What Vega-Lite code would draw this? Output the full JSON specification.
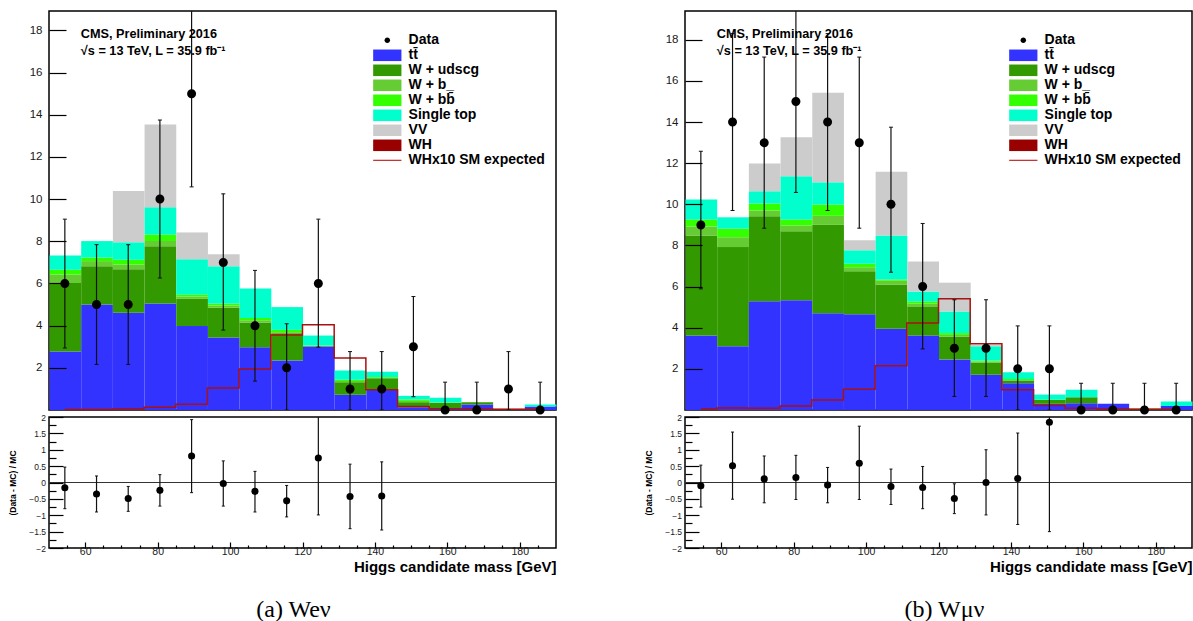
{
  "$schema": "https://vega.github.io/schema/vega-lite/v6.json",
  "background": "white",
  "padding": {"left": 7, "top": 10, "right": 0, "bottom": 0},
  "datasets": {
    "e_stack": [
      {"lo": 50, "hi": 58.75, "1 tt\u0304": 2.77, "2 W + udscg": 3.25, "3 W + b_": 0.41, "4 W + bb\u0304": 0.22, "5 Single top": 0.68, "6 VV": 0},
      {"lo": 58.75, "hi": 67.5, "1 tt\u0304": 5.0, "2 W + udscg": 1.82, "3 W + b_": 0.24, "4 W + bb\u0304": 0.17, "5 Single top": 0.78, "6 VV": 0},
      {"lo": 67.5, "hi": 76.25, "1 tt\u0304": 4.61, "2 W + udscg": 2.07, "3 W + b_": 0.22, "4 W + bb\u0304": 0.22, "5 Single top": 0.84, "6 VV": 2.42},
      {"lo": 76.25, "hi": 85, "1 tt\u0304": 5.05, "2 W + udscg": 2.72, "3 W + b_": 0.24, "4 W + bb\u0304": 0.31, "5 Single top": 1.29, "6 VV": 3.93},
      {"lo": 85, "hi": 93.75, "1 tt\u0304": 3.98, "2 W + udscg": 1.29, "3 W + b_": 0.11, "4 W + bb\u0304": 0.1, "5 Single top": 1.67, "6 VV": 1.27},
      {"lo": 93.75, "hi": 102.5, "1 tt\u0304": 3.44, "2 W + udscg": 1.41, "3 W + b_": 0.11, "4 W + bb\u0304": 0.09, "5 Single top": 1.77, "6 VV": 0.56},
      {"lo": 102.5, "hi": 111.25, "1 tt\u0304": 2.98, "2 W + udscg": 1.17, "3 W + b_": 0.1, "4 W + bb\u0304": 0.11, "5 Single top": 1.4, "6 VV": 0},
      {"lo": 111.25, "hi": 120, "1 tt\u0304": 2.35, "2 W + udscg": 1.29, "3 W + b_": 0.05, "4 W + bb\u0304": 0.11, "5 Single top": 1.08, "6 VV": 0},
      {"lo": 120, "hi": 128.75, "1 tt\u0304": 3.01, "2 W + udscg": 0.02, "3 W + b_": 0.01, "4 W + bb\u0304": 0.02, "5 Single top": 0.47, "6 VV": 0},
      {"lo": 128.75, "hi": 137.5, "1 tt\u0304": 0.72, "2 W + udscg": 0.6, "3 W + b_": 0.05, "4 W + bb\u0304": 0.06, "5 Single top": 0.44, "6 VV": 0},
      {"lo": 137.5, "hi": 146.25, "1 tt\u0304": 0.96, "2 W + udscg": 0.55, "3 W + b_": 0.02, "4 W + bb\u0304": 0.03, "5 Single top": 0.25, "6 VV": 0},
      {"lo": 146.25, "hi": 155, "1 tt\u0304": 0.13, "2 W + udscg": 0.24, "3 W + b_": 0.06, "4 W + bb\u0304": 0.07, "5 Single top": 0.17, "6 VV": 0},
      {"lo": 155, "hi": 163.75, "1 tt\u0304": 0.1, "2 W + udscg": 0.24, "3 W + b_": 0, "4 W + bb\u0304": 0.02, "5 Single top": 0.22, "6 VV": 0},
      {"lo": 163.75, "hi": 172.5, "1 tt\u0304": 0.26, "2 W + udscg": 0.11, "3 W + b_": 0, "4 W + bb\u0304": 0, "5 Single top": 0, "6 VV": 0},
      {"lo": 172.5, "hi": 181.25, "1 tt\u0304": 0, "2 W + udscg": 0.02, "3 W + b_": 0, "4 W + bb\u0304": 0, "5 Single top": 0, "6 VV": 0.05},
      {"lo": 181.25, "hi": 190, "1 tt\u0304": 0.17, "2 W + udscg": 0, "3 W + b_": 0, "4 W + bb\u0304": 0, "5 Single top": 0.09, "6 VV": 0}
    ],
    "mu_stack": [
      {"lo": 50, "hi": 58.75, "1 tt\u0304": 3.62, "2 W + udscg": 4.86, "3 W + b_": 0.44, "4 W + bb\u0304": 0.34, "5 Single top": 0.98, "6 VV": 0},
      {"lo": 58.75, "hi": 67.5, "1 tt\u0304": 3.1, "2 W + udscg": 4.82, "3 W + b_": 0.48, "4 W + bb\u0304": 0.42, "5 Single top": 0.55, "6 VV": 0},
      {"lo": 67.5, "hi": 76.25, "1 tt\u0304": 5.29, "2 W + udscg": 4.13, "3 W + b_": 0.28, "4 W + bb\u0304": 0.34, "5 Single top": 0.59, "6 VV": 1.35},
      {"lo": 76.25, "hi": 85, "1 tt\u0304": 5.34, "2 W + udscg": 3.35, "3 W + b_": 0.28, "4 W + bb\u0304": 0.29, "5 Single top": 2.1, "6 VV": 1.9},
      {"lo": 85, "hi": 93.75, "1 tt\u0304": 4.71, "2 W + udscg": 4.29, "3 W + b_": 0.44, "4 W + bb\u0304": 0.55, "5 Single top": 1.08, "6 VV": 4.35},
      {"lo": 93.75, "hi": 102.5, "1 tt\u0304": 4.66, "2 W + udscg": 2.09, "3 W + b_": 0.19, "4 W + bb\u0304": 0.17, "5 Single top": 0.66, "6 VV": 0.48},
      {"lo": 102.5, "hi": 111.25, "1 tt\u0304": 3.95, "2 W + udscg": 2.15, "3 W + b_": 0.19, "4 W + bb\u0304": 0.05, "5 Single top": 2.14, "6 VV": 3.11},
      {"lo": 111.25, "hi": 120, "1 tt\u0304": 3.62, "2 W + udscg": 1.42, "3 W + b_": 0.13, "4 W + bb\u0304": 0.11, "5 Single top": 0.48, "6 VV": 1.46},
      {"lo": 120, "hi": 128.75, "1 tt\u0304": 2.46, "2 W + udscg": 1.11, "3 W + b_": 0.08, "4 W + bb\u0304": 0.09, "5 Single top": 1.05, "6 VV": 1.4},
      {"lo": 128.75, "hi": 137.5, "1 tt\u0304": 1.71, "2 W + udscg": 0.6, "3 W + b_": 0.05, "4 W + bb\u0304": 0.05, "5 Single top": 0.69, "6 VV": 0.06},
      {"lo": 137.5, "hi": 146.25, "1 tt\u0304": 1.3, "2 W + udscg": 0.13, "3 W + b_": 0.03, "4 W + bb\u0304": 0.05, "5 Single top": 0.33, "6 VV": 0},
      {"lo": 146.25, "hi": 155, "1 tt\u0304": 0.3, "2 W + udscg": 0.2, "3 W + b_": 0, "4 W + bb\u0304": 0, "5 Single top": 0.25, "6 VV": 0},
      {"lo": 155, "hi": 163.75, "1 tt\u0304": 0.33, "2 W + udscg": 0.29, "3 W + b_": 0, "4 W + bb\u0304": 0, "5 Single top": 0.36, "6 VV": 0},
      {"lo": 163.75, "hi": 172.5, "1 tt\u0304": 0.3, "2 W + udscg": 0, "3 W + b_": 0, "4 W + bb\u0304": 0, "5 Single top": 0, "6 VV": 0},
      {"lo": 172.5, "hi": 181.25, "1 tt\u0304": 0, "2 W + udscg": 0.07, "3 W + b_": 0, "4 W + bb\u0304": 0, "5 Single top": 0, "6 VV": 0},
      {"lo": 181.25, "hi": 190, "1 tt\u0304": 0.19, "2 W + udscg": 0, "3 W + b_": 0, "4 W + bb\u0304": 0, "5 Single top": 0.22, "6 VV": 0}
    ],
    "e_data": [
      {"m": 54.375, "n": 6, "lo": 2.94, "hi": 9.05},
      {"m": 63.125, "n": 5, "lo": 2.16, "hi": 7.84},
      {"m": 71.875, "n": 5, "lo": 2.16, "hi": 7.84},
      {"m": 80.625, "n": 10, "lo": 6.26, "hi": 13.75},
      {"m": 89.375, "n": 15, "lo": 10.58, "hi": 19.5},
      {"m": 98.125, "n": 7, "lo": 3.79, "hi": 10.25},
      {"m": 106.875, "n": 4, "lo": 1.37, "hi": 6.62},
      {"m": 115.625, "n": 2, "lo": 0, "hi": 4.09},
      {"m": 124.375, "n": 6, "lo": 2.98, "hi": 9.05},
      {"m": 133.125, "n": 1, "lo": 0, "hi": 2.77},
      {"m": 141.875, "n": 1, "lo": 0, "hi": 2.77},
      {"m": 150.625, "n": 3, "lo": 0.63, "hi": 5.38},
      {"m": 159.375, "n": 0, "lo": 0, "hi": 1.32},
      {"m": 168.125, "n": 0, "lo": 0, "hi": 1.32},
      {"m": 176.875, "n": 1, "lo": 0, "hi": 2.77},
      {"m": 185.625, "n": 0, "lo": 0, "hi": 1.32}
    ],
    "mu_data": [
      {"m": 54.375, "n": 9, "lo": 5.89, "hi": 12.58},
      {"m": 63.125, "n": 14, "lo": 9.7, "hi": 18.3},
      {"m": 71.875, "n": 13, "lo": 8.84, "hi": 17.16},
      {"m": 80.625, "n": 15, "lo": 10.58, "hi": 19.6},
      {"m": 89.375, "n": 14, "lo": 9.7, "hi": 18.3},
      {"m": 98.125, "n": 13, "lo": 8.84, "hi": 17.16},
      {"m": 106.875, "n": 10, "lo": 6.7, "hi": 13.75},
      {"m": 115.625, "n": 6, "lo": 2.97, "hi": 9.07},
      {"m": 124.375, "n": 3, "lo": 0.66, "hi": 5.36},
      {"m": 133.125, "n": 3, "lo": 0.66, "hi": 5.36},
      {"m": 141.875, "n": 2, "lo": 0, "hi": 4.09},
      {"m": 150.625, "n": 2, "lo": 0, "hi": 4.09},
      {"m": 159.375, "n": 0, "lo": 0, "hi": 1.3},
      {"m": 168.125, "n": 0, "lo": 0, "hi": 1.3},
      {"m": 176.875, "n": 0, "lo": 0, "hi": 1.3},
      {"m": 185.625, "n": 0, "lo": 0, "hi": 1.3}
    ],
    "e_wh": [
      {"m": 54.375, "n": 0.02}, {"m": 63.125, "n": 0.02}, {"m": 71.875, "n": 0.05}, {"m": 80.625, "n": 0.13},
      {"m": 89.375, "n": 0.27}, {"m": 98.125, "n": 1.04}, {"m": 106.875, "n": 1.95}, {"m": 115.625, "n": 3.56},
      {"m": 124.375, "n": 4.04}, {"m": 133.125, "n": 2.46}, {"m": 141.875, "n": 0.96}, {"m": 150.625, "n": 0.17},
      {"m": 159.375, "n": 0.05}, {"m": 168.125, "n": 0.05}, {"m": 176.875, "n": 0.03}, {"m": 185.625, "n": 0.03}
    ],
    "mu_wh": [
      {"m": 54.375, "n": 0.05}, {"m": 63.125, "n": 0.1}, {"m": 71.875, "n": 0.08}, {"m": 80.625, "n": 0.2},
      {"m": 89.375, "n": 0.49}, {"m": 98.125, "n": 1.01}, {"m": 106.875, "n": 2.15}, {"m": 115.625, "n": 4.23},
      {"m": 124.375, "n": 5.41}, {"m": 133.125, "n": 3.22}, {"m": 141.875, "n": 0.98}, {"m": 150.625, "n": 0.22},
      {"m": 159.375, "n": 0.08}, {"m": 168.125, "n": 0.05}, {"m": 176.875, "n": 0.04}, {"m": 185.625, "n": 0.04}
    ],
    "e_ratio": [
      {"m": 54.375, "r": -0.16, "lo": -0.8, "hi": 0.47},
      {"m": 63.125, "r": -0.35, "lo": -0.9, "hi": 0.2},
      {"m": 71.875, "r": -0.49, "lo": -0.88, "hi": -0.12},
      {"m": 80.625, "r": -0.24, "lo": -0.72, "hi": 0.24},
      {"m": 89.375, "r": 0.81, "lo": -0.31, "hi": 1.92},
      {"m": 98.125, "r": -0.03, "lo": -0.72, "hi": 0.66},
      {"m": 106.875, "r": -0.27, "lo": -0.9, "hi": 0.34},
      {"m": 115.625, "r": -0.56, "lo": -1.05, "hi": -0.09},
      {"m": 124.375, "r": 0.75, "lo": -0.99, "hi": 2.6},
      {"m": 133.125, "r": -0.43, "lo": -1.41, "hi": 0.56},
      {"m": 141.875, "r": -0.41, "lo": -1.45, "hi": 0.63}
    ],
    "mu_ratio": [
      {"m": 54.375, "r": -0.1, "lo": -0.75, "hi": 0.53},
      {"m": 63.125, "r": 0.51, "lo": -0.51, "hi": 1.54},
      {"m": 71.875, "r": 0.11, "lo": -0.62, "hi": 0.81},
      {"m": 80.625, "r": 0.15, "lo": -0.52, "hi": 0.83},
      {"m": 89.375, "r": -0.08, "lo": -0.62, "hi": 0.46},
      {"m": 98.125, "r": 0.59, "lo": -0.52, "hi": 1.72},
      {"m": 106.875, "r": -0.12, "lo": -0.67, "hi": 0.41},
      {"m": 115.625, "r": -0.15, "lo": -0.8, "hi": 0.49},
      {"m": 124.375, "r": -0.49, "lo": -0.95, "hi": -0.04},
      {"m": 133.125, "r": 0.0, "lo": -0.99, "hi": 1.0},
      {"m": 141.875, "r": 0.12, "lo": -1.28, "hi": 1.51},
      {"m": 150.625, "r": 1.84, "lo": -1.5, "hi": 2.6}
    ]
  },
  "hconcat": [
    {
      "vconcat": [
        {
          "width": 507, "height": 399,
          "resolve": {"axis": {"y": "independent"}},
          "layer": [
            {
              "data": {"name": "e_stack"},
              "transform": [{"fold": ["1 tt\u0304", "2 W + udscg", "3 W + b_", "4 W + bb\u0304", "5 Single top", "6 VV"], "as": ["process", "n"]}],
              "mark": {"type": "bar", "binSpacing": 0},
              "encoding": {
                "x": {"field": "lo", "type": "quantitative", "bin": {"binned": true, "step": 8.75}, "scale": {"domain": [50, 190], "nice": false, "zero": false}, "axis": null},
                "x2": {"field": "hi"},
                "y": {"field": "n", "type": "quantitative", "stack": "zero", "scale": {"domain": [0, 18.92], "nice": false},
                  "axis": {"orient": "left", "offset": 0, "zindex": 1, "title": null, "values": [2,4,6,8,10,12,14,16,18], "tickSize": -17, "labelPadding": 24, "labelFontSize": 11.5, "labelOverlap": false}},
                "order": {"field": "process", "type": "nominal", "sort": "ascending"},
                "color": {"field": "process", "type": "nominal",
                  "scale": {"domain": ["0 Data", "1 tt\u0304", "2 W + udscg", "3 W + b_", "4 W + bb\u0304", "5 Single top", "6 VV", "7 WH", "8 WHx10 SM expected"],
                    "range": ["black", "#3333ff", "#339900", "#66cc33", "#33ff00", "#00ffcc", "#cccccc", "#990000", "#bb1111"]},
                  "legend": {"orient": "none", "legendX": 331.3, "legendY": 22.3, "title": null, "labelExpr": "slice(datum.label, 2)", "labelFont": "Liberation Sans", "labelFontWeight": "bold", "labelFontSize": 14, "labelColor": "black", "symbolSize": 121, "symbolStrokeWidth": 0, "labelOffset": 14.3, "rowPadding": 1, "padding": 0, "symbolOpacity": 1}}
              }
            },
            {
              "data": {"name": "e_wh"},
              "mark": {"type": "line", "interpolate": "step", "color": "#aa1111", "strokeWidth": 1.5},
              "encoding": {"x": {"field": "m", "type": "quantitative"}, "y": {"field": "n", "type": "quantitative", "axis": null}}
            },
            {
              "data": {"name": "e_data"},
              "layer": [
                {"mark": {"type": "rule", "color": "#111", "strokeWidth": 1.2, "clip": true},
                  "encoding": {"x": {"field": "m", "type": "quantitative"}, "y": {"field": "lo", "type": "quantitative", "axis": null}, "y2": {"field": "hi"}}},
                {"mark": {"type": "tick", "orient": "horizontal", "size": 4, "thickness": 1, "color": "#111", "opacity": 1, "clip": true},
                  "encoding": {"x": {"field": "m", "type": "quantitative"}, "y": {"field": "hi", "type": "quantitative", "axis": null}}},
                {"mark": {"type": "tick", "orient": "horizontal", "size": 4, "thickness": 1, "color": "#111", "opacity": 1, "clip": true},
                  "encoding": {"x": {"field": "m", "type": "quantitative"}, "y": {"field": "lo", "type": "quantitative", "axis": null}}},
                {"mark": {"type": "point", "filled": true, "opacity": 1, "size": 324},
                  "encoding": {"x": {"field": "m", "type": "quantitative"}, "y": {"field": "n", "type": "quantitative", "axis": null},
                    "color": {"datum": "0 Data", "type": "nominal",
                      "scale": {"domain": ["0 Data", "1 tt\u0304", "2 W + udscg", "3 W + b_", "4 W + bb\u0304", "5 Single top", "6 VV", "7 WH", "8 WHx10 SM expected"],
                        "range": ["black", "#3333ff", "#339900", "#66cc33", "#33ff00", "#00ffcc", "#cccccc", "#990000", "#bb1111"]},
                      "legend": {"orient": "none", "legendX": 331.3, "legendY": 22.3, "title": null, "labelExpr": "slice(datum.label, 2)", "labelFont": "Liberation Sans", "labelFontWeight": "bold", "labelFontSize": 14, "labelColor": "black", "symbolSize": 121, "symbolStrokeWidth": 0, "labelOffset": 14.3, "rowPadding": 1, "padding": 0, "symbolOpacity": 1}},
                    "shape": {"datum": "0 Data", "type": "nominal",
                      "scale": {"domain": ["0 Data", "1 tt\u0304", "2 W + udscg", "3 W + b_", "4 W + bb\u0304", "5 Single top", "6 VV", "7 WH", "8 WHx10 SM expected"],
                        "range": ["M0.5,0A0.5,0.5,0,1,1,-0.5,0A0.5,0.5,0,1,1,0.5,0Z", "M-2.57,-1.05H2.57V1.05H-2.57Z", "M-2.57,-1.05H2.57V1.05H-2.57Z", "M-2.57,-1.05H2.57V1.05H-2.57Z", "M-2.57,-1.05H2.57V1.05H-2.57Z", "M-2.57,-1.05H2.57V1.05H-2.57Z", "M-2.57,-1.05H2.57V1.05H-2.57Z", "M-2.57,-1.05H2.57V1.05H-2.57Z", "M-2.57,-0.1H2.57V0.1H-2.57Z"]},
                      "legend": {"orient": "none", "legendX": 331.3, "legendY": 22.3, "title": null, "labelExpr": "slice(datum.label, 2)", "labelFont": "Liberation Sans", "labelFontWeight": "bold", "labelFontSize": 14, "labelColor": "black", "symbolSize": 121, "symbolStrokeWidth": 0, "labelOffset": 14.3, "rowPadding": 1, "padding": 0, "symbolOpacity": 1}}}}
              ]
            },
            {
              "data": {"values": [{}]},
              "layer": [
                {"mark": {"type": "text", "align": "left", "baseline": "alphabetic", "font": "Liberation Sans", "fontWeight": "bold", "fontSize": 12.7, "color": "black"},
                  "encoding": {"x": {"datum": 58.8, "type": "quantitative"}, "y": {"datum": 17.66, "type": "quantitative", "axis": null}, "text": {"value": "CMS, Preliminary 2016"}}},
                {"mark": {"type": "text", "align": "left", "baseline": "alphabetic", "font": "Liberation Sans", "fontWeight": "bold", "fontSize": 12.7, "color": "black"},
                  "encoding": {"x": {"datum": 58.8, "type": "quantitative"}, "y": {"datum": 16.82, "type": "quantitative", "axis": null}, "text": {"value": "\u221as = 13 TeV, L = 35.9 fb\u207b\u00b9"}}},
                {"mark": {"type": "rule", "opacity": 0},
                  "encoding": {"y": {"datum": 0, "type": "quantitative",
                    "axis": {"orient": "left", "offset": 0, "zindex": 1, "title": null, "labels": false, "tickSize": -8.5, "values": [0.5,1,1.5,2.5,3,3.5,4.5,5,5.5,6.5,7,7.5,8.5,9,9.5,10.5,11,11.5,12.5,13,13.5,14.5,15,15.5,16.5,17,17.5,18.5]}}}}
              ]
            }
          ]
        },
        {
          "width": 507, "height": 131,
          "title": {"text": "(a) We\u03bd", "orient": "bottom", "anchor": "middle", "font": "Liberation Serif", "fontSize": 24, "fontWeight": "normal", "color": "black", "offset": 23, "dx": -9},
          "resolve": {"axis": {"x": "independent", "y": "independent"}},
          "layer": [
            {
              "data": {"values": [{}]},
              "mark": {"type": "rule", "color": "#333", "strokeWidth": 1},
              "encoding": {"y": {"datum": 0, "type": "quantitative", "scale": {"domain": [-2, 2], "nice": false, "zero": false},
                "axis": {"orient": "left", "offset": 0, "zindex": 1, "title": "(Data - MC) / MC", "titleFontWeight": "bold", "titleFontSize": 8.5, "titlePadding": 11,
                  "values": [-2,-1.5,-1,-0.5,0,0.5,1,1.5,2], "format": "~g", "tickSize": -14, "labelPadding": 17.5, "labelFontSize": 8.5, "labelOverlap": false}}}
            },
            {
              "data": {"values": [{}]},
              "mark": {"type": "rule", "opacity": 0},
              "encoding": {
                "x": {"datum": 50, "type": "quantitative", "axis": {"orient": "bottom", "offset": 0, "zindex": 1, "title": null, "labels": false, "tickSize": -3, "values": [55,65,70,75,85,90,95,105,110,115,125,130,135,145,150,155,165,170,175,185]}},
                "y": {"datum": 0, "type": "quantitative", "axis": {"orient": "left", "offset": 0, "zindex": 1, "title": null, "labels": false, "tickSize": -7, "values": [-1.75,-1.25,-0.75,-0.25,0.25,0.75,1.25,1.75]}}}
            },
            {
              "data": {"name": "e_ratio"},
              "layer": [
                {"mark": {"type": "rule", "color": "#111", "strokeWidth": 1.2, "clip": true},
                  "encoding": {
                    "x": {"field": "m", "type": "quantitative", "scale": {"domain": [50, 190], "nice": false, "zero": false},
                      "axis": {"orient": "bottom", "offset": 0, "zindex": 1, "title": "Higgs candidate mass [GeV]", "titleAnchor": "end", "titleFontWeight": "bold", "titleFontSize": 15, "titlePadding": 3,
                        "values": [60,80,100,120,140,160,180], "tickSize": -6, "labelPadding": 4, "labelFontSize": 10.5, "labelOverlap": false}},
                    "y": {"field": "lo", "type": "quantitative", "axis": null},
                    "y2": {"field": "hi"}}},
                {"mark": {"type": "tick", "orient": "horizontal", "size": 3, "thickness": 1, "color": "#111", "opacity": 1, "clip": true},
                  "encoding": {"x": {"field": "m", "type": "quantitative"}, "y": {"field": "hi", "type": "quantitative", "axis": null}}},
                {"mark": {"type": "tick", "orient": "horizontal", "size": 3, "thickness": 1, "color": "#111", "opacity": 1, "clip": true},
                  "encoding": {"x": {"field": "m", "type": "quantitative"}, "y": {"field": "lo", "type": "quantitative", "axis": null}}},
                {"mark": {"type": "point", "shape": "circle", "filled": true, "opacity": 1, "size": 50, "color": "black"},
                  "encoding": {"x": {"field": "m", "type": "quantitative"}, "y": {"field": "r", "type": "quantitative", "axis": null}}}
              ]
            }
          ]
        }
      ],
      "spacing": 7,
      "bounds": "flush",
      "resolve": {"scale": {"x": "independent", "y": "independent"}}
    },
    {
      "vconcat": [
        {
          "width": 507, "height": 399,
          "resolve": {"axis": {"y": "independent"}},
          "layer": [
            {
              "data": {"name": "mu_stack"},
              "transform": [{"fold": ["1 tt\u0304", "2 W + udscg", "3 W + b_", "4 W + bb\u0304", "5 Single top", "6 VV"], "as": ["process", "n"]}],
              "mark": {"type": "bar", "binSpacing": 0},
              "encoding": {
                "x": {"field": "lo", "type": "quantitative", "bin": {"binned": true, "step": 8.75}, "scale": {"domain": [50, 190], "nice": false, "zero": false}, "axis": null},
                "x2": {"field": "hi"},
                "y": {"field": "n", "type": "quantitative", "stack": "zero", "scale": {"domain": [0, 19.4], "nice": false},
                  "axis": {"orient": "left", "offset": 0, "zindex": 1, "title": null, "values": [2,4,6,8,10,12,14,16,18], "tickSize": -17, "labelPadding": 24, "labelFontSize": 11.5, "labelOverlap": false}},
                "order": {"field": "process", "type": "nominal", "sort": "ascending"},
                "color": {"field": "process", "type": "nominal",
                  "scale": {"domain": ["0 Data", "1 tt\u0304", "2 W + udscg", "3 W + b_", "4 W + bb\u0304", "5 Single top", "6 VV", "7 WH", "8 WHx10 SM expected"],
                    "range": ["black", "#3333ff", "#339900", "#66cc33", "#33ff00", "#00ffcc", "#cccccc", "#990000", "#bb1111"]},
                  "legend": {"orient": "none", "legendX": 331.3, "legendY": 22.3, "title": null, "labelExpr": "slice(datum.label, 2)", "labelFont": "Liberation Sans", "labelFontWeight": "bold", "labelFontSize": 14, "labelColor": "black", "symbolSize": 121, "symbolStrokeWidth": 0, "labelOffset": 14.3, "rowPadding": 1, "padding": 0, "symbolOpacity": 1}}
              }
            },
            {
              "data": {"name": "mu_wh"},
              "mark": {"type": "line", "interpolate": "step", "color": "#aa1111", "strokeWidth": 1.5},
              "encoding": {"x": {"field": "m", "type": "quantitative"}, "y": {"field": "n", "type": "quantitative", "axis": null}}
            },
            {
              "data": {"name": "mu_data"},
              "layer": [
                {"mark": {"type": "rule", "color": "#111", "strokeWidth": 1.2, "clip": true},
                  "encoding": {"x": {"field": "m", "type": "quantitative"}, "y": {"field": "lo", "type": "quantitative", "axis": null}, "y2": {"field": "hi"}}},
                {"mark": {"type": "tick", "orient": "horizontal", "size": 4, "thickness": 1, "color": "#111", "opacity": 1, "clip": true},
                  "encoding": {"x": {"field": "m", "type": "quantitative"}, "y": {"field": "hi", "type": "quantitative", "axis": null}}},
                {"mark": {"type": "tick", "orient": "horizontal", "size": 4, "thickness": 1, "color": "#111", "opacity": 1, "clip": true},
                  "encoding": {"x": {"field": "m", "type": "quantitative"}, "y": {"field": "lo", "type": "quantitative", "axis": null}}},
                {"mark": {"type": "point", "filled": true, "opacity": 1, "size": 324},
                  "encoding": {"x": {"field": "m", "type": "quantitative"}, "y": {"field": "n", "type": "quantitative", "axis": null},
                    "color": {"datum": "0 Data", "type": "nominal",
                      "scale": {"domain": ["0 Data", "1 tt\u0304", "2 W + udscg", "3 W + b_", "4 W + bb\u0304", "5 Single top", "6 VV", "7 WH", "8 WHx10 SM expected"],
                        "range": ["black", "#3333ff", "#339900", "#66cc33", "#33ff00", "#00ffcc", "#cccccc", "#990000", "#bb1111"]},
                      "legend": {"orient": "none", "legendX": 331.3, "legendY": 22.3, "title": null, "labelExpr": "slice(datum.label, 2)", "labelFont": "Liberation Sans", "labelFontWeight": "bold", "labelFontSize": 14, "labelColor": "black", "symbolSize": 121, "symbolStrokeWidth": 0, "labelOffset": 14.3, "rowPadding": 1, "padding": 0, "symbolOpacity": 1}},
                    "shape": {"datum": "0 Data", "type": "nominal",
                      "scale": {"domain": ["0 Data", "1 tt\u0304", "2 W + udscg", "3 W + b_", "4 W + bb\u0304", "5 Single top", "6 VV", "7 WH", "8 WHx10 SM expected"],
                        "range": ["M0.5,0A0.5,0.5,0,1,1,-0.5,0A0.5,0.5,0,1,1,0.5,0Z", "M-2.57,-1.05H2.57V1.05H-2.57Z", "M-2.57,-1.05H2.57V1.05H-2.57Z", "M-2.57,-1.05H2.57V1.05H-2.57Z", "M-2.57,-1.05H2.57V1.05H-2.57Z", "M-2.57,-1.05H2.57V1.05H-2.57Z", "M-2.57,-1.05H2.57V1.05H-2.57Z", "M-2.57,-1.05H2.57V1.05H-2.57Z", "M-2.57,-0.1H2.57V0.1H-2.57Z"]},
                      "legend": {"orient": "none", "legendX": 331.3, "legendY": 22.3, "title": null, "labelExpr": "slice(datum.label, 2)", "labelFont": "Liberation Sans", "labelFontWeight": "bold", "labelFontSize": 14, "labelColor": "black", "symbolSize": 121, "symbolStrokeWidth": 0, "labelOffset": 14.3, "rowPadding": 1, "padding": 0, "symbolOpacity": 1}}}}
              ]
            },
            {
              "data": {"values": [{}]},
              "layer": [
                {"mark": {"type": "text", "align": "left", "baseline": "alphabetic", "font": "Liberation Sans", "fontWeight": "bold", "fontSize": 12.7, "color": "black"},
                  "encoding": {"x": {"datum": 58.8, "type": "quantitative"}, "y": {"datum": 18.1, "type": "quantitative", "axis": null}, "text": {"value": "CMS, Preliminary 2016"}}},
                {"mark": {"type": "text", "align": "left", "baseline": "alphabetic", "font": "Liberation Sans", "fontWeight": "bold", "fontSize": 12.7, "color": "black"},
                  "encoding": {"x": {"datum": 58.8, "type": "quantitative"}, "y": {"datum": 17.24, "type": "quantitative", "axis": null}, "text": {"value": "\u221as = 13 TeV, L = 35.9 fb\u207b\u00b9"}}},
                {"mark": {"type": "rule", "opacity": 0},
                  "encoding": {"y": {"datum": 0, "type": "quantitative",
                    "axis": {"orient": "left", "offset": 0, "zindex": 1, "title": null, "labels": false, "tickSize": -8.5, "values": [0.5,1,1.5,2.5,3,3.5,4.5,5,5.5,6.5,7,7.5,8.5,9,9.5,10.5,11,11.5,12.5,13,13.5,14.5,15,15.5,16.5,17,17.5,18.5,19]}}}}
              ]
            }
          ]
        },
        {
          "width": 507, "height": 131,
          "title": {"text": "(b) W\u03bc\u03bd", "orient": "bottom", "anchor": "middle", "font": "Liberation Serif", "fontSize": 24, "fontWeight": "normal", "color": "black", "offset": 23, "dx": 6},
          "resolve": {"axis": {"x": "independent", "y": "independent"}},
          "layer": [
            {
              "data": {"values": [{}]},
              "mark": {"type": "rule", "color": "#333", "strokeWidth": 1},
              "encoding": {"y": {"datum": 0, "type": "quantitative", "scale": {"domain": [-2, 2], "nice": false, "zero": false},
                "axis": {"orient": "left", "offset": 0, "zindex": 1, "title": "(Data - MC) / MC", "titleFontWeight": "bold", "titleFontSize": 8.5, "titlePadding": 11,
                  "values": [-2,-1.5,-1,-0.5,0,0.5,1,1.5,2], "format": "~g", "tickSize": -14, "labelPadding": 17.5, "labelFontSize": 8.5, "labelOverlap": false}}}
            },
            {
              "data": {"values": [{}]},
              "mark": {"type": "rule", "opacity": 0},
              "encoding": {
                "x": {"datum": 50, "type": "quantitative", "axis": {"orient": "bottom", "offset": 0, "zindex": 1, "title": null, "labels": false, "tickSize": -3, "values": [55,65,70,75,85,90,95,105,110,115,125,130,135,145,150,155,165,170,175,185]}},
                "y": {"datum": 0, "type": "quantitative", "axis": {"orient": "left", "offset": 0, "zindex": 1, "title": null, "labels": false, "tickSize": -7, "values": [-1.75,-1.25,-0.75,-0.25,0.25,0.75,1.25,1.75]}}}
            },
            {
              "data": {"name": "mu_ratio"},
              "layer": [
                {"mark": {"type": "rule", "color": "#111", "strokeWidth": 1.2, "clip": true},
                  "encoding": {
                    "x": {"field": "m", "type": "quantitative", "scale": {"domain": [50, 190], "nice": false, "zero": false},
                      "axis": {"orient": "bottom", "offset": 0, "zindex": 1, "title": "Higgs candidate mass [GeV]", "titleAnchor": "end", "titleFontWeight": "bold", "titleFontSize": 15, "titlePadding": 3,
                        "values": [60,80,100,120,140,160,180], "tickSize": -6, "labelPadding": 4, "labelFontSize": 10.5, "labelOverlap": false}},
                    "y": {"field": "lo", "type": "quantitative", "axis": null},
                    "y2": {"field": "hi"}}},
                {"mark": {"type": "tick", "orient": "horizontal", "size": 3, "thickness": 1, "color": "#111", "opacity": 1, "clip": true},
                  "encoding": {"x": {"field": "m", "type": "quantitative"}, "y": {"field": "hi", "type": "quantitative", "axis": null}}},
                {"mark": {"type": "tick", "orient": "horizontal", "size": 3, "thickness": 1, "color": "#111", "opacity": 1, "clip": true},
                  "encoding": {"x": {"field": "m", "type": "quantitative"}, "y": {"field": "lo", "type": "quantitative", "axis": null}}},
                {"mark": {"type": "point", "shape": "circle", "filled": true, "opacity": 1, "size": 50, "color": "black"},
                  "encoding": {"x": {"field": "m", "type": "quantitative"}, "y": {"field": "r", "type": "quantitative", "axis": null}}}
              ]
            }
          ]
        }
      ],
      "spacing": 7,
      "bounds": "flush",
      "resolve": {"scale": {"x": "independent", "y": "independent"}}
    }
  ],
  "spacing": 85,
  "resolve": {"scale": {"color": "independent", "shape": "independent", "x": "independent", "y": "independent"}, "legend": {"color": "independent", "shape": "independent"}},
  "config": {
    "view": {"stroke": "black", "strokeWidth": 1.5},
    "axis": {"domain": false, "grid": false, "labelFont": "Liberation Sans", "labelColor": "#1a1a1a", "tickColor": "black", "tickWidth": 1.2, "titleFont": "Liberation Sans", "titleColor": "black", "labelOverlap": false, "labelFlush": false, "labelBound": false},
    "title": {"font": "Liberation Serif"}
  }
}
